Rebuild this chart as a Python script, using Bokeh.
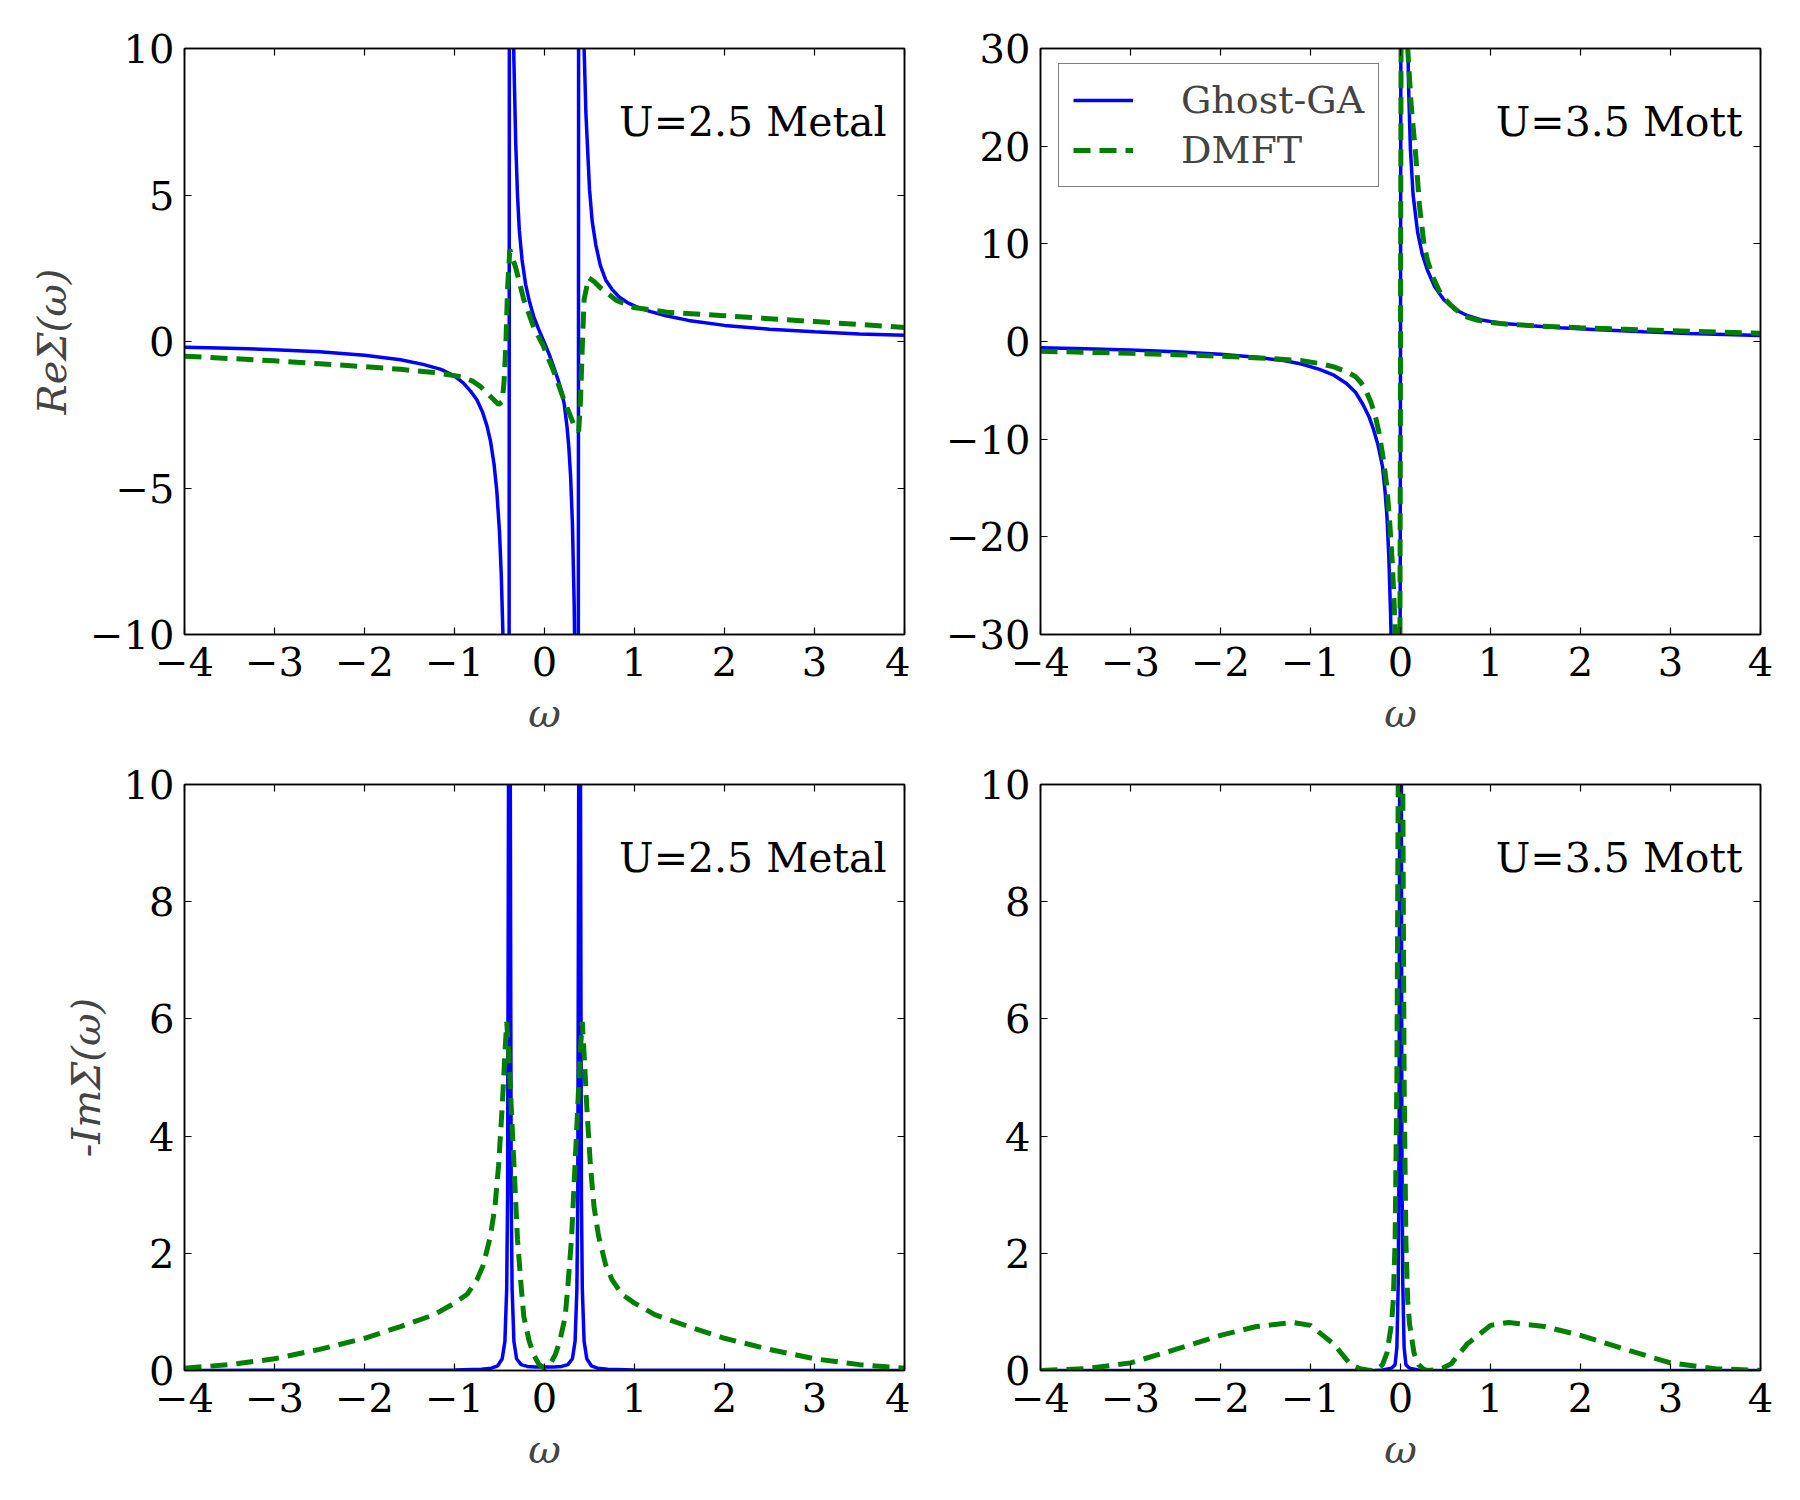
from bokeh.plotting import figure
from bokeh.layouts import gridplot
from bokeh.models import LinearAxis, Label, Legend, LegendItem, Range1d, FixedTicker
from bokeh.embed import file_html
from bokeh.resources import INLINE

# ---------------- data ----------------
# Re Sigma, U=2.5 (metal), Ghost-GA
re_metal_ga_w = [-4.0, -3.5, -3.0, -2.5, -2.0, -1.6, -1.35, -1.15, -1.0, -0.9, -0.82, -0.75, -0.69,
                 -0.64, -0.60, -0.56, -0.53, -0.50, -0.48, -0.46, -0.44, -0.42, -0.40,
                 -0.385, -0.375, -0.36, -0.35, -0.34, -0.32, -0.30, -0.28, -0.25, -0.21, -0.17,
                 -0.12, -0.06, 0.0, 0.05, 0.10, 0.15, 0.19, 0.22, 0.25, 0.27, 0.29, 0.31, 0.33,
                 0.345, 0.36, 0.37,
                 0.385, 0.40, 0.42, 0.44, 0.46, 0.48, 0.50, 0.53, 0.57, 0.62, 0.68, 0.75, 0.83,
                 0.92, 1.05, 1.18, 1.35, 1.6, 2.0, 2.5, 3.0, 3.5, 4.0]
re_metal_ga_v = [-0.20, -0.23, -0.28, -0.35, -0.47, -0.62, -0.78, -0.95, -1.18, -1.42, -1.70, -2.00, -2.40,
                 -2.87, -3.40, -4.20, -5.10, -6.50, -8.00, -10.2, -14.0, -24.0, -70.0,
                 60.0, 30.0, 15.0, 11.5, 9.6, 6.8, 5.0, 3.8, 2.8, 1.95, 1.40,
                 0.85, 0.38, -0.05, -0.42, -0.85, -1.30, -1.70, -2.15, -2.90, -3.60, -4.60, -6.20, -9.00,
                 -13.0, -25.0, -60.0,
                 60.0, 30.0, 15.0, 10.0, 7.8, 6.5, 5.2, 4.1, 3.3, 2.6, 2.1, 1.78, 1.52,
                 1.33, 1.15, 1.02, 0.88, 0.72, 0.55, 0.42, 0.33, 0.26, 0.21]

# Re Sigma, U=2.5 (metal), DMFT
re_metal_dmft_w = [-4.0, -3.5, -3.0, -2.5, -2.0, -1.6, -1.23, -0.93, -0.80, -0.71, -0.60, -0.51,
                   -0.47, -0.45, -0.43, -0.41, -0.385, -0.36, -0.32, -0.23, -0.12, -0.01,
                   0.10, 0.21, 0.33, 0.38, 0.40, 0.42, 0.44, 0.49, 0.55, 0.62, 0.80, 0.99,
                   1.36, 2.0, 2.5, 3.0, 3.5, 4.0]
re_metal_dmft_v = [-0.50, -0.58, -0.66, -0.76, -0.86, -0.95, -1.06, -1.20, -1.35, -1.54, -1.88, -2.15,
                   -2.05, -1.40, -0.18, 1.84, 3.14, 2.90, 2.52, 1.43, 0.49, -0.17,
                   -1.00, -1.94, -2.87, -3.07, -2.00, -0.17, 1.43, 2.18, 2.05, 1.84, 1.40, 1.16,
                   1.00, 0.88, 0.78, 0.68, 0.58, 0.48]

# Re Sigma, U=3.5 (Mott), Ghost-GA
re_mott_ga_w = [-4.0, -3.5, -3.0, -2.5, -2.0, -1.6, -1.3, -1.1, -0.9, -0.74, -0.6, -0.5, -0.42,
                -0.35, -0.30, -0.25, -0.20, -0.17, -0.15, -0.13, -0.11, -0.09, -0.06, -0.02,
                0.02, 0.05, 0.07, 0.08, 0.09, 0.11, 0.14, 0.19, 0.24, 0.30, 0.38, 0.48, 0.60,
                0.74, 0.90, 1.11, 1.4, 1.78, 2.2, 2.7, 3.2, 3.6, 4.0]
re_mott_ga_v = [-0.65, -0.75, -0.87, -1.04, -1.30, -1.62, -1.95, -2.30, -2.85, -3.45, -4.30, -5.20, -6.40,
                -7.70, -9.00, -10.6, -12.8, -15.5, -18.0, -22.0, -28.0, -36.0, -60.0, -150.0,
                150.0, 60.0, 40.0, 32.0, 26.0, 19.7, 15.0, 11.2, 9.0, 7.3, 5.6, 4.3, 3.3,
                2.66, 2.2, 1.88, 1.65, 1.42, 1.20, 1.00, 0.83, 0.72, 0.62]

# Re Sigma, U=3.5 (Mott), DMFT
re_mott_dmft_w = [-4.0, -3.5, -3.0, -2.5, -2.0, -1.5, -1.11, -0.9, -0.74, -0.6, -0.5, -0.44, -0.38,
                  -0.33, -0.28, -0.24, -0.20, -0.17, -0.15, -0.12, -0.09, -0.07, -0.06, -0.04, -0.02,
                  0.02, 0.05, 0.08, 0.12, 0.17, 0.21, 0.26, 0.30, 0.36, 0.43, 0.50, 0.55, 0.65,
                  0.74, 0.85, 1.0, 1.2, 1.5, 2.0, 2.5, 3.0, 3.5, 4.0]
re_mott_dmft_v = [-1.00, -1.10, -1.20, -1.35, -1.50, -1.72, -1.95, -2.25, -2.60, -3.10, -3.60, -4.20, -5.10,
                  -6.20, -7.60, -9.30, -11.5, -13.5, -15.0, -18.5, -22.8, -27.0, -30.0, -45.0, -100.0,
                  100.0, 45.0, 30.0, 24.0, 19.0, 14.0, 10.0, 8.3, 6.6, 5.2, 4.3, 3.8, 3.0,
                  2.5, 2.2, 1.95, 1.75, 1.60, 1.40, 1.25, 1.10, 0.97, 0.85]

# -Im Sigma, U=2.5 (metal), Ghost-GA
im_metal_ga_w = [-4.0, -1.0, -0.7, -0.59, -0.52, -0.47, -0.44, -0.42, -0.41, -0.40, -0.395, -0.39,
                 -0.385, -0.38, -0.37, -0.36, -0.34, -0.31, -0.26, -0.19, -0.10, 0.0,
                 0.10, 0.19, 0.26, 0.31, 0.34, 0.36, 0.37, 0.38, 0.385, 0.39, 0.395, 0.40,
                 0.41, 0.42, 0.44, 0.47, 0.52, 0.59, 0.7, 1.0, 4.0]
im_metal_ga_v = [0.0, 0.01, 0.02, 0.04, 0.08, 0.20, 0.50, 1.40, 3.0, 10.0, 25.0, 60.0,
                 25.0, 10.0, 3.0, 1.40, 0.50, 0.20, 0.10, 0.07, 0.06, 0.06,
                 0.06, 0.07, 0.10, 0.20, 0.50, 1.40, 3.0, 10.0, 25.0, 60.0, 25.0, 10.0,
                 3.0, 1.40, 0.50, 0.20, 0.08, 0.04, 0.02, 0.01, 0.0]

# -Im Sigma, U=2.5 (metal), DMFT
im_metal_dmft_w = [-4.0, -3.5, -3.0, -2.5, -2.0, -1.6, -1.23, -1.0, -0.86, -0.75, -0.68, -0.60, -0.55,
                   -0.51, -0.47, -0.44, -0.42, -0.40, -0.38, -0.34, -0.30, -0.26, -0.23, -0.17, -0.12,
                   -0.06, 0.0, 0.06, 0.12, 0.17, 0.23, 0.26, 0.30, 0.34, 0.38, 0.40, 0.42, 0.44,
                   0.47, 0.51, 0.55, 0.60, 0.68, 0.75, 0.86, 1.0, 1.23, 1.6, 2.0, 2.5, 3.0, 3.5, 4.0]
im_metal_dmft_v = [0.04, 0.10, 0.20, 0.36, 0.55, 0.75, 0.95, 1.15, 1.30, 1.55, 1.80, 2.30, 2.80,
                   3.50, 4.50, 5.40, 5.95, 5.50, 4.85, 3.53, 2.24, 1.45, 0.92, 0.50, 0.27,
                   0.10, 0.04, 0.10, 0.27, 0.50, 0.92, 1.45, 2.24, 3.53, 4.85, 5.50, 5.95, 5.40,
                   4.50, 3.50, 2.80, 2.30, 1.80, 1.55, 1.30, 1.15, 0.95, 0.75, 0.55, 0.36, 0.20, 0.10, 0.04]

# -Im Sigma, U=3.5 (Mott), Ghost-GA
im_mott_ga_w = [-4.0, -0.3, -0.2, -0.1, -0.06, -0.04, -0.025, -0.015, -0.008, 0.0,
                0.008, 0.015, 0.025, 0.04, 0.06, 0.1, 0.2, 0.3, 4.0]
im_mott_ga_v = [0.0, 0.0, 0.01, 0.04, 0.10, 0.40, 1.50, 4.0, 12.0, 40.0,
                12.0, 4.0, 1.50, 0.40, 0.10, 0.04, 0.01, 0.0, 0.0]

# -Im Sigma, U=3.5 (Mott), DMFT
im_mott_dmft_w = [-4.0, -3.5, -3.0, -2.5, -2.0, -1.6, -1.2, -1.0, -0.74, -0.56, -0.45, -0.37, -0.30,
                  -0.26, -0.20, -0.15, -0.10, -0.08, -0.06, -0.04, -0.02, 0.0,
                  0.02, 0.04, 0.06, 0.08, 0.10, 0.15, 0.20, 0.26, 0.30, 0.37, 0.45, 0.56, 0.74,
                  1.0, 1.2, 1.6, 2.0, 2.5, 3.0, 3.5, 4.0]
im_mott_dmft_v = [0.0, 0.03, 0.13, 0.36, 0.60, 0.75, 0.82, 0.77, 0.45, 0.11, 0.03, 0.01, 0.0,
                  0.02, 0.10, 0.30, 0.80, 1.20, 2.20, 5.0, 12.0, 30.0,
                  12.0, 5.0, 2.20, 1.20, 0.80, 0.30, 0.10, 0.02, 0.0, 0.01, 0.03, 0.11, 0.45,
                  0.77, 0.82, 0.75, 0.60, 0.36, 0.13, 0.03, 0.0]

x_ticks = [-4, -3, -2, -1, 0, 1, 2, 3, 4]
re_metal_ticks = [-10, -5, 0, 5, 10]
re_mott_ticks = [-30, -20, -10, 0, 10, 20, 30]
im_ticks = [0, 2, 4, 6, 8, 10]

# ---------------- styling ----------------
FONT = "DejaVu Serif"
BLUE = "#0000ff"
GREEN = "#008000"


def minus(ticks):
    return {t: str(t).replace("-", "\u2212") for t in ticks}


def style_axis(ax, ticks, show_labels=True):
    ax.ticker = FixedTicker(ticks=ticks)
    ax.major_tick_in = 7
    ax.major_tick_out = 0
    ax.minor_tick_in = 0
    ax.minor_tick_out = 0
    ax.axis_line_color = "black"
    ax.axis_line_width = 1.5
    ax.major_tick_line_color = "black"
    ax.major_tick_line_width = 1.2
    if show_labels:
        ax.major_label_overrides = minus(ticks)
        ax.major_label_text_font = FONT
        ax.major_label_text_font_size = "40px"
        ax.major_label_text_color = "black"
    else:
        # tick marks only on the mirrored top/right axes
        ax.major_label_text_color = None
        ax.major_label_standoff = 0


def panel(width, height, borders, ylim, yticks, ylabel, note, ypos):
    left, right, top, bottom = borders
    p = figure(width=width, height=height, x_range=Range1d(-4, 4), y_range=Range1d(*ylim),
               output_backend="svg", toolbar_location=None,
               min_border_left=left, min_border_right=right,
               min_border_top=top, min_border_bottom=bottom)
    p.xgrid.visible = False
    p.ygrid.visible = False
    p.outline_line_color = "black"
    p.outline_line_width = 1.5
    p.background_fill_color = "white"
    p.border_fill_color = "white"

    style_axis(p.xaxis[0], x_ticks)
    p.xaxis[0].major_label_standoff = 12
    p.xaxis[0].axis_label = "\u03c9"
    p.xaxis[0].axis_label_text_font = FONT
    p.xaxis[0].axis_label_text_font_style = "italic"
    p.xaxis[0].axis_label_text_font_size = "40px"
    p.xaxis[0].axis_label_standoff = 11

    style_axis(p.yaxis[0], yticks)
    p.yaxis[0].major_label_standoff = 10
    if ylabel:
        p.yaxis[0].axis_label = ylabel
        p.yaxis[0].axis_label_text_font = FONT
        p.yaxis[0].axis_label_text_font_style = "italic"
        p.yaxis[0].axis_label_text_font_size = "40px"
        p.yaxis[0].axis_label_standoff = 12

    top_ax = LinearAxis()
    style_axis(top_ax, x_ticks, show_labels=False)
    p.add_layout(top_ax, "above")
    right_ax = LinearAxis()
    style_axis(right_ax, yticks, show_labels=False)
    p.add_layout(right_ax, "right")

    p.add_layout(Label(x=4, y=ypos, text=note, x_offset=-18, text_align="right",
                       text_baseline="middle", text_font=FONT, text_font_size="41px",
                       text_color="black"))
    return p


def curves(p, ga_w, ga_v, dmft_w, dmft_v):
    r1 = p.line(ga_w, ga_v, line_color=BLUE, line_width=3.5)
    r2 = p.line(dmft_w, dmft_v, line_color=GREEN, line_width=5, line_dash="17 9")
    return r1, r2


TOP_H, BOT_H = 750, 750
LEFT_W, RIGHT_W = 910, 890

tl = panel(LEFT_W, TOP_H, (184, 6, 48, 116), (-10, 10), re_metal_ticks,
           "Re\u03a3(\u03c9)", "U=2.5 Metal", 7.5)
curves(tl, re_metal_ga_w, re_metal_ga_v, re_metal_dmft_w, re_metal_dmft_v)

tr = panel(RIGHT_W, TOP_H, (130, 40, 48, 116), (-30, 30), re_mott_ticks,
           None, "U=3.5 Mott", 22.5)
ga_r, dmft_r = curves(tr, re_mott_ga_w, re_mott_ga_v, re_mott_dmft_w, re_mott_dmft_v)
legend = Legend(items=[LegendItem(label="Ghost-GA", renderers=[ga_r]),
                       LegendItem(label="DMFT", renderers=[dmft_r])],
                location=(18, 447), padding=14, spacing=6, margin=0,
                glyph_width=60, glyph_height=44, label_standoff=48,
                label_text_font=FONT, label_text_font_size="38px",
                border_line_color="black", border_line_width=1.5,
                background_fill_color="white", background_fill_alpha=1)
tr.add_layout(legend)

bl = panel(LEFT_W, BOT_H, (184, 6, 34, 130), (0, 10), im_ticks,
           "-Im\u03a3(\u03c9)", "U=2.5 Metal", 8.75)
curves(bl, im_metal_ga_w, im_metal_ga_v, im_metal_dmft_w, im_metal_dmft_v)

br = panel(RIGHT_W, BOT_H, (130, 40, 34, 130), (0, 10), im_ticks,
           None, "U=3.5 Mott", 8.75)
curves(br, im_mott_ga_w, im_mott_ga_v, im_mott_dmft_w, im_mott_dmft_v)

grid = gridplot([[tl, tr], [bl, br]], toolbar_location=None)

with open("out.html", "w") as f:
    f.write(file_html(grid, INLINE))
